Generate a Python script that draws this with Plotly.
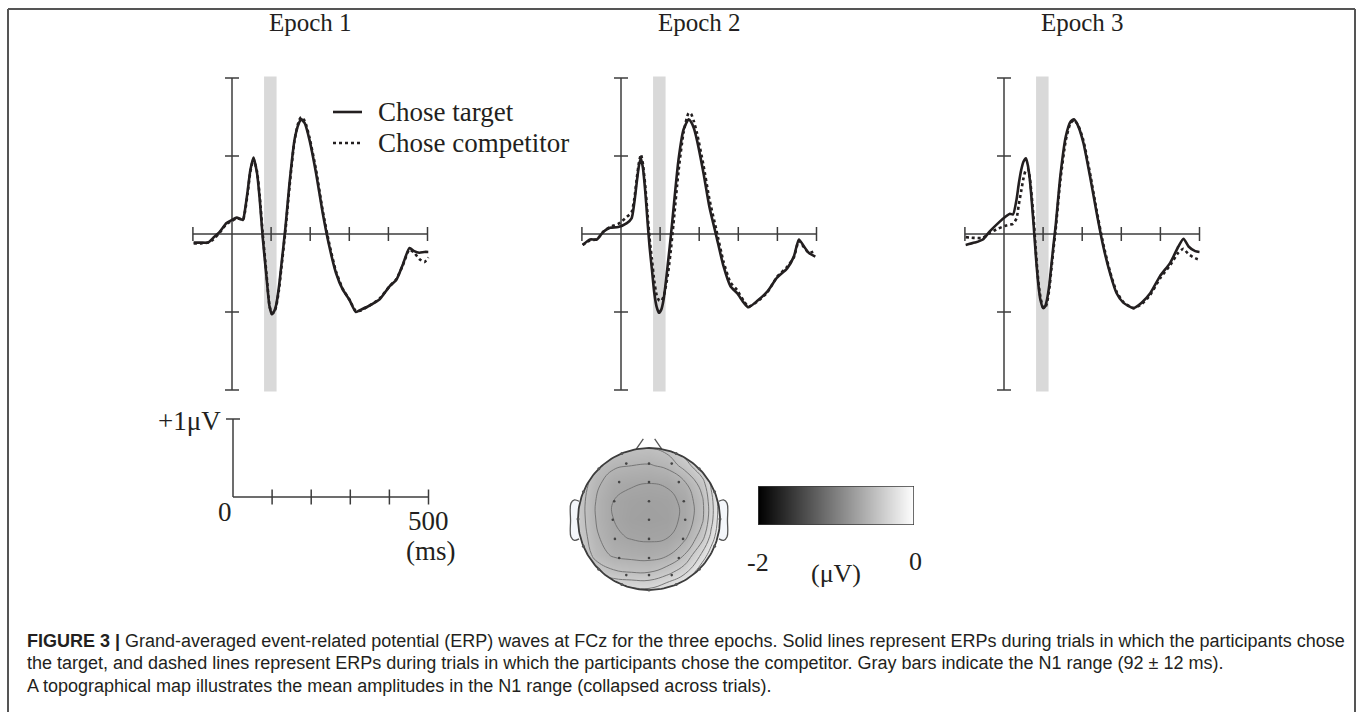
import math
import plotly.graph_objects as go

W, H = 1358, 712

# ---------------- data ----------------
EPOCH_TITLES = ["Epoch 1", "Epoch 2", "Epoch 3"]
SERIES_NAMES = ["Chose target", "Chose competitor"]

E1_TIME = [-98, -80, -61, -48, -31, -14, 0, 12, 22, 28, 33, 40, 47, 55, 64, 71, 79, 88, 96, 102,
           108, 113, 120, 126, 137, 147, 160, 171, 177, 186, 198, 215, 232, 249, 266, 283, 300, 317,
           330, 351, 377, 403, 420, 437, 454, 466, 479, 492, 502]
E1_TARGET = [-0.11, -0.11, -0.11, -0.05, 0.03, 0.14, 0.18, 0.21, 0.19, 0.18, 0.30, 0.55, 0.82, 0.98,
             0.78, 0.44, -0.07, -0.54, -0.93, -1.03, -0.99, -0.91, -0.68, -0.41, 0.10, 0.65, 1.21,
             1.42, 1.47, 1.42, 1.21, 0.78, 0.27, -0.16, -0.50, -0.71, -0.84, -1.00, -0.97, -0.92,
             -0.84, -0.67, -0.59, -0.39, -0.18, -0.22, -0.24, -0.23, -0.23]
E1_COMPETITOR = [-0.12, -0.12, -0.11, -0.07, 0.02, 0.13, 0.17, 0.20, 0.19, 0.18, 0.28, 0.52, 0.80,
                 0.96, 0.80, 0.48, -0.02, -0.50, -0.92, -1.02, -1.00, -0.93, -0.72, -0.45, 0.06,
                 0.60, 1.20, 1.45, 1.50, 1.45, 1.24, 0.82, 0.30, -0.13, -0.48, -0.70, -0.84, -0.99,
                 -0.98, -0.92, -0.83, -0.67, -0.58, -0.40, -0.20, -0.24, -0.32, -0.36, -0.30]

E2_TIME = [-98, -79, -62, -45, -28, -7, 15, 27, 34, 40, 46, 51, 56, 62, 68, 73, 79, 85, 91, 97,
           103, 109, 115, 121, 128, 134, 147, 160, 173, 179, 186, 194, 211, 226, 244, 262, 280, 297,
           314, 326, 348, 374, 399, 425, 442, 455, 468, 480, 497]
E2_TARGET = [-0.14, -0.07, -0.07, 0.03, 0.08, 0.09, 0.14, 0.20, 0.40, 0.65, 0.88, 0.97, 0.85, 0.55,
             0.15, -0.16, -0.45, -0.75, -0.93, -1.01, -0.97, -0.84, -0.60, -0.33, 0.00, 0.31, 0.95,
             1.34, 1.47, 1.44, 1.36, 1.21, 0.78, 0.35, -0.03, -0.41, -0.67, -0.76, -0.88, -0.94,
             -0.86, -0.74, -0.56, -0.44, -0.29, -0.07, -0.16, -0.24, -0.29]
E2_COMPETITOR = [-0.14, -0.08, -0.07, 0.03, 0.09, 0.13, 0.22, 0.28, 0.45, 0.70, 0.92, 1.02, 0.90,
                 0.62, 0.25, -0.05, -0.32, -0.60, -0.78, -0.85, -0.86, -0.80, -0.66, -0.48, -0.18,
                 0.12, 0.80, 1.30, 1.55, 1.54, 1.45, 1.30, 0.88, 0.45, 0.05, -0.35, -0.62, -0.72,
                 -0.86, -0.93, -0.87, -0.75, -0.55, -0.42, -0.30, -0.09, -0.17, -0.24, -0.22]

E3_TIME = [-98, -75, -54, -37, -15, 6, 15, 23, 32, 38, 44, 50, 56, 61, 66, 71, 76, 81, 85, 89, 93,
           100, 105, 110, 116, 121, 127, 132, 144, 158, 170, 179, 190, 203, 220, 237, 254, 271, 288,
           305, 331, 352, 374, 399, 425, 446, 459, 472, 489, 500]
E3_TARGET = [-0.14, -0.11, -0.07, 0.03, 0.14, 0.23, 0.26, 0.25, 0.44, 0.65, 0.82, 0.93, 0.97, 0.88,
             0.70, 0.42, 0.10, -0.25, -0.50, -0.70, -0.84, -0.95, -0.93, -0.84, -0.65, -0.41, -0.12,
             0.10, 0.74, 1.25, 1.44, 1.47, 1.38, 1.17, 0.74, 0.27, -0.16, -0.50, -0.76, -0.88,
             -0.95, -0.88, -0.76, -0.54, -0.37, -0.16, -0.06, -0.16, -0.22, -0.23]
E3_COMPETITOR = [-0.04, -0.05, -0.05, 0.01, 0.07, 0.11, 0.12, 0.13, 0.20, 0.38, 0.55, 0.72, 0.82,
                 0.83, 0.72, 0.48, 0.18, -0.18, -0.45, -0.66, -0.80, -0.94, -0.95, -0.88, -0.70,
                 -0.46, -0.17, 0.05, 0.68, 1.20, 1.42, 1.46, 1.39, 1.20, 0.78, 0.30, -0.13, -0.48,
                 -0.74, -0.87, -0.95, -0.90, -0.78, -0.57, -0.40, -0.24, -0.19, -0.26, -0.31, -0.33]

N1_RANGE = [82, 114]            # ms, gray bar
Y_RANGE = [-2, 2]               # uV, vertical axis extent
X_RANGE = [-100, 500]           # ms, horizontal axis extent
Y_TICKS = [-2, -1, 1, 2]
X_TICKS = [-100, 100, 200, 300, 400, 500]
SCALE_X_TICKS = [100, 200, 300, 400, 500]
SCALE_LABELS = ["+1\u03bcV", "0", "500", "(ms)"]

COLORBAR_RANGE = [-2, 0]
COLORBAR_LABELS = ["-2", "(\u03bcV)", "0"]

# topographic map: amplitudes (uV) on a grid in head units (head radius = 1), rows bottom -> top
TOPO_X = [-1.25, -1.0, -0.75, -0.5, -0.25, 0.0, 0.25, 0.5, 0.75, 0.875, 1.0, 1.25]
TOPO_Y = [-1.25, -1.0, -0.75, -0.5, -0.25, 0.0, 0.25, 0.5, 0.75, 1.0, 1.25]
TOPO_Z = [
    [-0.02, -0.02, -0.09, -0.15, -0.17, -0.16, -0.09, -0.02, -0.02, -0.02, -0.02, -0.02],
    [-0.06, -0.10, -0.19, -0.25, -0.27, -0.28, -0.20, -0.08, -0.02, -0.02, -0.02, -0.02],
    [-0.22, -0.30, -0.42, -0.48, -0.50, -0.50, -0.44, -0.33, -0.10, -0.04, -0.02, -0.02],
    [-0.32, -0.37, -0.54, -0.62, -0.64, -0.65, -0.62, -0.50, -0.28, -0.14, -0.04, -0.02],
    [-0.36, -0.41, -0.58, -0.68, -0.71, -0.72, -0.71, -0.63, -0.44, -0.27, -0.10, -0.06],
    [-0.38, -0.43, -0.60, -0.70, -0.74, -0.75, -0.74, -0.68, -0.52, -0.34, -0.14, -0.08],
    [-0.37, -0.43, -0.60, -0.70, -0.73, -0.74, -0.73, -0.68, -0.52, -0.34, -0.14, -0.08],
    [-0.35, -0.40, -0.57, -0.67, -0.69, -0.70, -0.69, -0.62, -0.45, -0.28, -0.10, -0.05],
    [-0.29, -0.35, -0.52, -0.58, -0.60, -0.61, -0.58, -0.46, -0.30, -0.18, -0.05, -0.02],
    [-0.23, -0.28, -0.41, -0.47, -0.49, -0.50, -0.46, -0.33, -0.18, -0.12, -0.02, -0.02],
    [-0.18, -0.22, -0.34, -0.40, -0.42, -0.43, -0.39, -0.27, -0.12, -0.08, -0.02, -0.02],
]
TOPO_LEVELS = dict(start=-0.70, end=-0.15, size=0.10)
ELEC_X = [-0.32, 0, 0.32, -0.42, 0, 0.42, -0.49, 0, 0.49, -0.51, 0, 0.51,
          -0.48, 0, 0.48, -0.42, 0, 0.42, -0.32, 0, 0.32]
ELEC_Y = [0.78, 0.78, 0.78, 0.52, 0.52, 0.52, 0.25, 0.25, 0.25, -0.01, -0.01, -0.01,
          -0.28, -0.28, -0.28, -0.55, -0.55, -0.55, -0.79, -0.79, -0.79]
RIM_ANGLES = [-90, -67.5, -45, -22.5, 0, 22.5, 45, 67.5, 112.5, 135, 157.5, 180, 202.5, 225, 247.5]

CAPTION = [
    "<b>FIGURE 3 |</b> Grand-averaged event-related potential (ERP) waves at FCz for the three epochs. "
    "Solid lines represent ERPs during trials in which the participants chose",
    "the target, and dashed lines represent ERPs during trials in which the participants chose the "
    "competitor. Gray bars indicate the N1 range (92 \u00b1 12 ms).",
    "A topographical map illustrates the mean amplitudes in the N1 range (collapsed across trials).",
]

# ---------------- layout geometry (pixels) ----------------
MS_PX = 0.391      # pixels per ms
UV_PX = 78.0       # pixels per uV
PANEL_ORIGINS = [(232, 234), (621, 234), (1004, 234)]
SCALE_ORIGIN = (233, 497)
TOPO_CENTER = (649, 519)
TOPO_R = 71.0
CBAR_BOX = (758, 914, 486, 525)

INK = "#231f20"
AXC = "#3c3c3c"
SERIF = "Liberation Serif, Times New Roman, serif"
SANS = "Liberation Sans, Arial, sans-serif"


def pxx(x):
    return x / W


def pxy(y):
    return 1 - y / H


layout = dict(width=W, height=H, margin=dict(l=0, r=0, t=0, b=0),
              paper_bgcolor="white", plot_bgcolor="rgba(0,0,0,0)", showlegend=False)
shapes, annotations, traces = [], [], []


def axname(n):
    return ("xaxis", "yaxis") if n == 1 else (f"xaxis{n}", f"yaxis{n}")


def refs(n):
    return ("x", "y") if n == 1 else (f"x{n}", f"y{n}")


def add_axis(n, xpx, ypx, xr, yr):
    xa, ya = axname(n)
    xr_, yr_ = refs(n)
    layout[xa] = dict(domain=[pxx(xpx[0]), pxx(xpx[1])], range=xr, visible=False,
                      fixedrange=True, anchor=yr_)
    layout[ya] = dict(domain=[pxy(ypx[1]), pxy(ypx[0])], range=yr, visible=False,
                      fixedrange=True, anchor=xr_)


def line_shape(n, **kw):
    xr_, yr_ = refs(n)
    d = dict(type="line", xref=xr_, yref=yr_, line=dict(color=AXC, width=1.5), layer="below")
    d.update(kw)
    shapes.append(d)


def xtick(n, xv, half=7):
    line_shape(n, ysizemode="pixel", yanchor=0, x0=xv, x1=xv, y0=-half, y1=half)


def ytick(n, yv, half=7):
    line_shape(n, xsizemode="pixel", xanchor=0, x0=-half, x1=half, y0=yv, y1=yv)


# ---------------- ERP panels ----------------
EPOCHS = [(E1_TIME, E1_TARGET, E1_COMPETITOR),
          (E2_TIME, E2_TARGET, E2_COMPETITOR),
          (E3_TIME, E3_TARGET, E3_COMPETITOR)]

for i, ((ox, oy), (t, tgt, comp), title) in enumerate(zip(PANEL_ORIGINS, EPOCHS, EPOCH_TITLES)):
    n = i + 1
    left, right, top, bottom = ox - 55, ox + 220, oy - 170, oy + 170
    add_axis(n, (left, right), (top, bottom),
             [(left - ox) / MS_PX, (right - ox) / MS_PX],
             [(oy - bottom) / UV_PX, (oy - top) / UV_PX])
    xr_, yr_ = refs(n)
    # N1 gray bar
    shapes.append(dict(type="rect", xref=xr_, yref=yr_, x0=N1_RANGE[0], x1=N1_RANGE[1],
                       y0=Y_RANGE[0] - 0.02, y1=Y_RANGE[1] + 0.02,
                       fillcolor="#d9d9d9", line=dict(width=0), layer="below"))
    # axes
    line_shape(n, x0=0, x1=0, y0=Y_RANGE[0], y1=Y_RANGE[1])
    line_shape(n, x0=X_RANGE[0], x1=X_RANGE[1], y0=0, y1=0)
    for yv in Y_TICKS:
        ytick(n, yv)
    for xv in X_TICKS:
        xtick(n, xv)
    # waves
    traces.append(go.Scatter(x=t, y=comp, mode="lines", name=SERIES_NAMES[1],
                             line=dict(color=INK, width=2.6, dash="dot", shape="spline",
                                       smoothing=0.6),
                             xaxis=xr_, yaxis=yr_, hoverinfo="skip"))
    traces.append(go.Scatter(x=t, y=tgt, mode="lines", name=SERIES_NAMES[0],
                             line=dict(color=INK, width=2.6, shape="spline", smoothing=0.6),
                             xaxis=xr_, yaxis=yr_, hoverinfo="skip"))
    annotations.append(dict(text=title, xref=xr_, x=200, yref="paper", y=pxy(22),
                            showarrow=False, xanchor="center", yanchor="middle",
                            font=dict(family=SERIF, size=25, color=INK)))

# legend (manual, inside Epoch 1 panel)
for name, dash, ypos in [(SERIES_NAMES[0], "solid", 112), (SERIES_NAMES[1], "dot", 143)]:
    shapes.append(dict(type="line", xref="paper", yref="paper", x0=pxx(333), x1=pxx(362),
                       y0=pxy(ypos), y1=pxy(ypos), line=dict(color=INK, width=2.6, dash=dash)))
    annotations.append(dict(text=name, xref="paper", yref="paper", x=pxx(376), y=pxy(ypos),
                            showarrow=False, xanchor="left", yanchor="middle",
                            font=dict(family=SERIF, size=27, color=INK)))

# ---------------- scale bar ----------------
n = 4
sx, sy = SCALE_ORIGIN
add_axis(n, (sx - 20, sx + 215), (sy - 95, sy + 15),
         [-20 / MS_PX, 215 / MS_PX], [-15 / UV_PX, 95 / UV_PX])
line_shape(n, x0=0, x1=0, y0=0, y1=1)
line_shape(n, x0=0, x1=SCALE_X_TICKS[-1], y0=0, y1=0)
ytick(n, 1)
for xv in SCALE_X_TICKS:
    xtick(n, xv, half=7.5)
scale_pos = [(223, 421, "right"), (225, 512, "center"), (428, 521, "center"), (431, 551, "center")]
for txt, (xp, yp, anc) in zip(SCALE_LABELS, scale_pos):
    annotations.append(dict(text=txt, xref="paper", yref="paper", x=pxx(xp), y=pxy(yp),
                            xanchor=anc, yanchor="middle", showarrow=False,
                            font=dict(family=SERIF, size=27, color=INK)))

# ---------------- topographic map ----------------
n = 5
cx, cy = TOPO_CENTER
tl, tr, tt, tb = 555, 745, 428, 610
add_axis(n, (tl, tr), (tt, tb),
         [(tl - cx) / TOPO_R, (tr - cx) / TOPO_R], [(cy - tb) / TOPO_R, (cy - tt) / TOPO_R])
xr5, yr5 = refs(n)
GREY_SCALE = [[0, "#000000"], [1, "#ffffff"]]
# smooth shading
traces.append(go.Heatmap(x=TOPO_X, y=TOPO_Y, z=TOPO_Z, colorscale=GREY_SCALE,
                         zmin=COLORBAR_RANGE[0], zmax=COLORBAR_RANGE[1], zsmooth="best",
                         showscale=False, xaxis=xr5, yaxis=yr5, hoverinfo="skip"))
# iso-lines
traces.append(go.Contour(x=TOPO_X, y=TOPO_Y, z=TOPO_Z, showscale=False,
                         contours=dict(coloring="none", showlines=True, **TOPO_LEVELS),
                         line=dict(color="#767676", width=1, smoothing=1.3),
                         xaxis=xr5, yaxis=yr5, hoverinfo="skip"))
NPT = 180
circ_cw = [(math.cos(-2 * math.pi * k / NPT), math.sin(-2 * math.pi * k / NPT)) for k in range(NPT + 1)]
B = 1.6
mask_x = [p[0] for p in circ_cw] + [B, B, -B, -B, B, B, 1]
mask_y = [p[1] for p in circ_cw] + [0, B, B, -B, -B, 0, 0]
traces.append(go.Scatter(x=mask_x, y=mask_y, mode="lines", fill="toself", fillcolor="white",
                         line=dict(width=0), xaxis=xr5, yaxis=yr5, hoverinfo="skip"))
# ears
for s in (-1, 1):
    ex = [s * 0.985, s * 1.05, s * 1.10, s * 1.105, s * 1.10, s * 1.05, s * 0.985]
    ey = [0.25, 0.27, 0.22, -0.02, -0.25, -0.30, -0.28]
    traces.append(go.Scatter(x=ex, y=ey, mode="lines", line=dict(color="#555555", width=1.3,
                             shape="spline"), fill="toself", fillcolor="#f4f6fa",
                             xaxis=xr5, yaxis=yr5, hoverinfo="skip"))
# nose
for s in (-1, 1):
    traces.append(go.Scatter(x=[s * 0.18, s * 0.08], y=[0.985, 1.13], mode="lines",
                             line=dict(color="#555555", width=1.3), xaxis=xr5, yaxis=yr5,
                             hoverinfo="skip"))
# head outline
traces.append(go.Scatter(x=[p[0] for p in circ_cw], y=[p[1] for p in circ_cw], mode="lines",
                         line=dict(color="#3c3c3c", width=1.8), xaxis=xr5, yaxis=yr5,
                         hoverinfo="skip"))
# electrodes
traces.append(go.Scatter(x=ELEC_X, y=ELEC_Y, mode="markers",
                         marker=dict(color="#444444", size=2.6), xaxis=xr5, yaxis=yr5,
                         hoverinfo="skip"))
traces.append(go.Scatter(x=[math.cos(math.radians(a)) for a in RIM_ANGLES],
                         y=[math.sin(math.radians(a)) for a in RIM_ANGLES], mode="markers",
                         marker=dict(color="#555555", size=3), xaxis=xr5, yaxis=yr5,
                         hoverinfo="skip"))

# ---------------- colour bar ----------------
n = 6
bl, br, bt, bb = CBAR_BOX
add_axis(n, (bl, br), (bt, bb), COLORBAR_RANGE, [0, 1])
xr6, yr6 = refs(n)
traces.append(go.Heatmap(x=COLORBAR_RANGE, y=[0, 1], z=[COLORBAR_RANGE, COLORBAR_RANGE],
                         colorscale=GREY_SCALE, zmin=COLORBAR_RANGE[0], zmax=COLORBAR_RANGE[1],
                         zsmooth="best", showscale=False, xaxis=xr6, yaxis=yr6, hoverinfo="skip"))
shapes.append(dict(type="rect", xref=xr6, yref=yr6, x0=COLORBAR_RANGE[0], x1=COLORBAR_RANGE[1],
                   y0=0, y1=1, line=dict(color=AXC, width=1.5), layer="above"))
for xv in COLORBAR_RANGE:
    shapes.append(dict(type="line", xref=xr6, yref=yr6, ysizemode="pixel", yanchor=0,
                       x0=xv, x1=xv, y0=0, y1=-15, line=dict(color=AXC, width=1.5)))
for txt, xp, yp in zip(COLORBAR_LABELS, [758, 836, 915], [562, 573, 561]):
    annotations.append(dict(text=txt, xref="paper", yref="paper", x=pxx(xp), y=pxy(yp),
                            showarrow=False, xanchor="center", yanchor="middle",
                            font=dict(family=SERIF, size=26, color=INK)))

# ---------------- caption & frame ----------------
for line, yp in zip(CAPTION, [641, 663, 686]):
    annotations.append(dict(text=line, xref="paper", yref="paper", x=pxx(25), y=pxy(yp),
                            showarrow=False, xanchor="left", yanchor="middle",
                            font=dict(family=SANS, size=18, color=INK)))
for (x0, y0, x1, y1) in [(8, 9, 1355, 9), (8, 9, 8, 730), (1355, 9, 1355, 730)]:
    shapes.append(dict(type="line", xref="paper", yref="paper", x0=pxx(x0), y0=pxy(y0),
                       x1=pxx(x1), y1=pxy(y1), line=dict(color="#555555", width=2)))

layout["shapes"] = shapes
layout["annotations"] = annotations
fig = go.Figure(data=traces, layout=layout)
fig.write_html("out.html", config={"displayModeBar": False},
               post_script="document.body.style.margin='0';document.body.style.overflow='hidden';")
